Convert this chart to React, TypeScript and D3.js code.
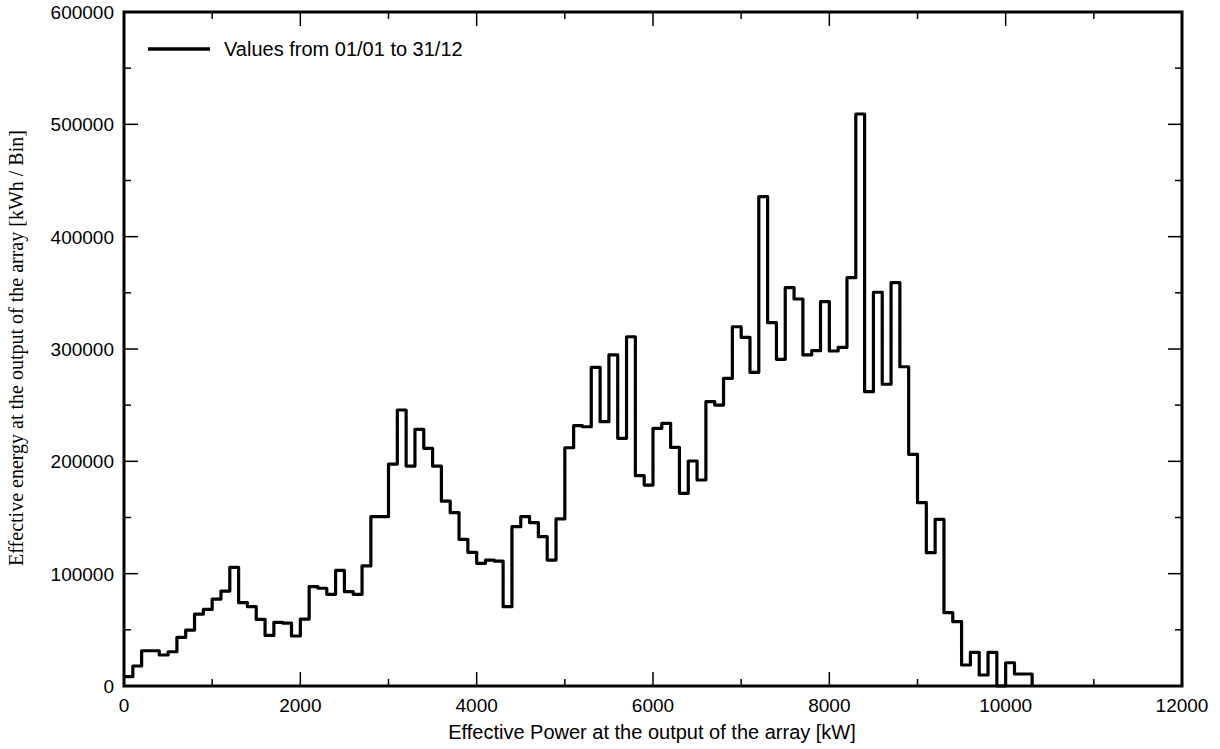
import React, { useEffect, useRef } from "react";
import * as d3 from "d3";

const binWidthKW = 100;
const energyPerBin: number[] = [
  8300, 17800, 31400, 31400, 27600, 30500, 43300, 49800, 64000, 68200,
  77400, 84500, 105600, 74200, 70600, 59300, 45000, 56700, 56000, 44500,
  59600, 88500, 87000, 81600, 103000, 84000, 81600, 107000, 150700, 150700,
  197600, 245700, 195800, 228500, 211600, 195800, 164500, 154300, 130600, 119000,
  109200, 112100, 111200, 70600, 141800, 150700, 145400, 132900, 112100, 148700,
  212100, 231700, 230800, 283700, 235300, 294700, 220500, 310900, 187200, 178900,
  229400, 233800, 212400, 171500, 200300, 183400, 253100, 250100, 273900, 319800,
  310400, 279200, 435600, 323400, 290800, 354600, 344500, 294700, 298500, 342100,
  298200, 301500, 363500, 509200, 262000, 350500, 268600, 359000, 284200, 206200,
  163200, 118700, 148400, 65300, 57300, 18700, 30000, 9800, 30000, 0,
  20700, 10700, 10700,
];
const xMajorTicks = [0, 2000, 4000, 6000, 8000, 10000, 12000];
const yMajorTicks = [0, 100000, 200000, 300000, 400000, 500000, 600000];
const xTitle = "Effective Power at the output of the array [kW]";
const yTitle = "Effective energy at the output of the array [kWh / Bin]";
const legendLabel = "Values from 01/01 to 31/12";

const W = 1220;
const H = 749;
const L = 124, R = 1182, T = 12, B = 686;

export default function App() {
  const ref = useRef<SVGSVGElement>(null);
  useEffect(() => {
    const svg = d3.select(ref.current);
    svg.selectAll("*").remove();
    const x = d3.scaleLinear().domain([0, 12000]).range([L, R]);
    const y = d3.scaleLinear().domain([0, 600000]).range([B, T]);

    const pts: [number, number][] = energyPerBin.map((v, i) => [i * binWidthKW, v]);
    pts.push([energyPerBin.length * binWidthKW, energyPerBin[energyPerBin.length - 1]]);
    pts.push([energyPerBin.length * binWidthKW, 0]);
    const line = d3.line<[number, number]>().x(d => x(d[0])).y(d => y(d[1])).curve(d3.curveStepAfter);

    const sans = "'Liberation Sans', Arial, sans-serif";

    // ticks
    const tg = svg.append("g").attr("stroke", "#000").attr("stroke-width", 1.5);
    const xMinor = d3.range(1000, 12000, 2000);
    const yMinor = d3.range(50000, 600000, 100000);
    xMajorTicks.forEach(v => {
      tg.append("line").attr("x1", x(v)).attr("x2", x(v)).attr("y1", B).attr("y2", B - 14);
      tg.append("line").attr("x1", x(v)).attr("x2", x(v)).attr("y1", T).attr("y2", T + 14);
    });
    xMinor.forEach(v => {
      tg.append("line").attr("x1", x(v)).attr("x2", x(v)).attr("y1", B).attr("y2", B - 7);
      tg.append("line").attr("x1", x(v)).attr("x2", x(v)).attr("y1", T).attr("y2", T + 7);
    });
    yMajorTicks.forEach(v => {
      tg.append("line").attr("x1", L).attr("x2", L + 14).attr("y1", y(v)).attr("y2", y(v));
      tg.append("line").attr("x1", R).attr("x2", R - 14).attr("y1", y(v)).attr("y2", y(v));
    });
    yMinor.forEach(v => {
      tg.append("line").attr("x1", L).attr("x2", L + 7).attr("y1", y(v)).attr("y2", y(v));
      tg.append("line").attr("x1", R).attr("x2", R - 7).attr("y1", y(v)).attr("y2", y(v));
    });

    // histogram step line
    svg.append("path").attr("d", line(pts) as string).attr("fill", "none")
      .attr("stroke", "#000").attr("stroke-width", 3.2).attr("stroke-linejoin", "round");

    // frame
    svg.append("rect").attr("x", L).attr("y", T).attr("width", R - L).attr("height", B - T)
      .attr("fill", "none").attr("stroke", "#000").attr("stroke-width", 3);

    // tick labels
    xMajorTicks.forEach(v => {
      svg.append("text").attr("x", x(v)).attr("y", 712).attr("text-anchor", "middle")
        .attr("font-family", sans).attr("font-size", 19).text(String(v));
    });
    yMajorTicks.forEach(v => {
      svg.append("text").attr("x", 114).attr("y", y(v) + 7).attr("text-anchor", "end")
        .attr("font-family", sans).attr("font-size", 19).text(String(v));
    });

    // axis titles
    svg.append("text").attr("x", 652).attr("y", 739).attr("text-anchor", "middle")
      .attr("font-family", sans).attr("font-size", 20).text(xTitle);
    svg.append("text").attr("transform", `translate(23, 348) rotate(-90)`)
      .attr("text-anchor", "middle").attr("font-family", "'Liberation Serif', 'Times New Roman', serif")
      .attr("font-size", 20).text(yTitle);

    // legend
    svg.append("line").attr("x1", 148).attr("x2", 210).attr("y1", 49).attr("y2", 49)
      .attr("stroke", "#000").attr("stroke-width", 3.5);
    svg.append("text").attr("x", 224).attr("y", 56).attr("font-family", sans).attr("font-size", 20)
      .text(legendLabel);
  }, []);
  return (
    <svg ref={ref} width={W} height={H} style={{ position: "absolute", left: 0, top: 0, background: "#fff" }} />
  );
}
